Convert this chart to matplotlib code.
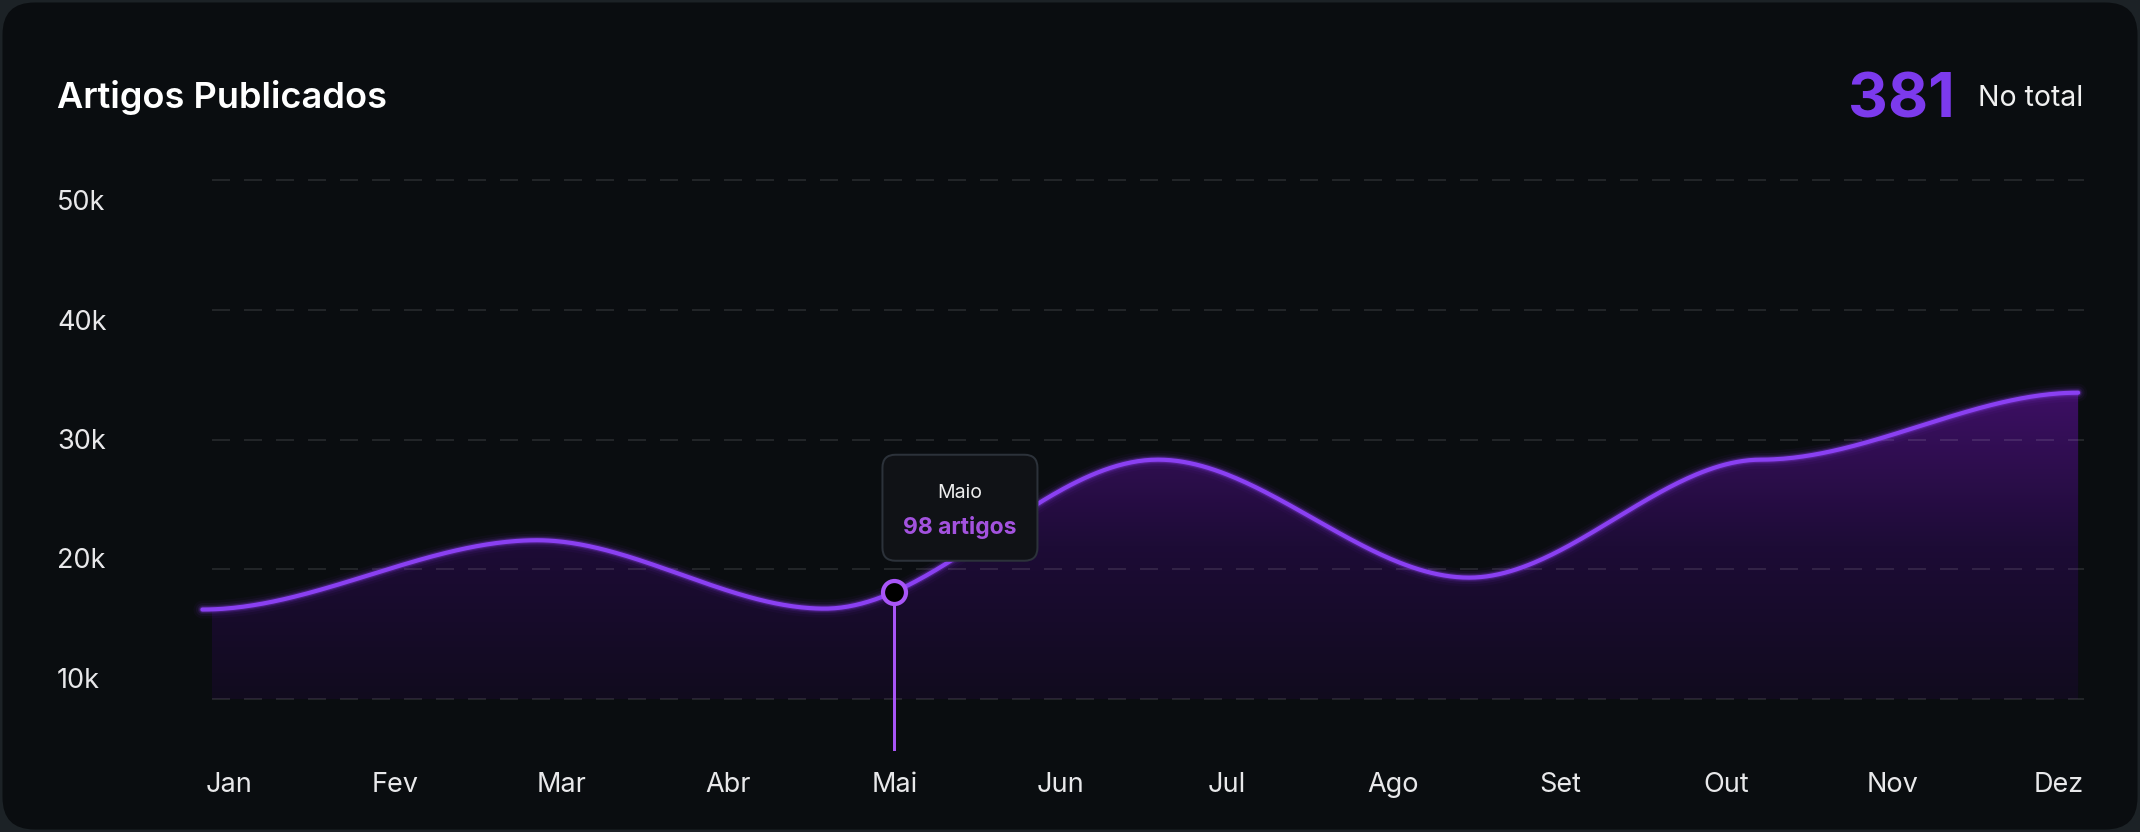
import numpy as np
import matplotlib
matplotlib.use("Agg")
import matplotlib.pyplot as plt
from matplotlib.patches import FancyBboxPatch, PathPatch
from matplotlib.transforms import IdentityTransform
from matplotlib.colors import LinearSegmentedColormap

plt.rcParams['font.family'] = ['Inter', 'DejaVu Sans']

# ---------------- data ----------------
title = "Artigos Publicados"
total_value = "381"
total_label = "No total"
months = ["Jan", "Fev", "Mar", "Abr", "Mai", "Jun", "Jul", "Ago", "Set", "Out", "Nov", "Dez"]
y_ticks = [10, 20, 30, 40, 50]
y_tick_labels = ["10k", "20k", "30k", "40k", "50k"]
# curve control points (x in month units, y in thousands)
curve_x = [-0.16, 1.851, 3.58, 5.584, 7.454, 9.209, 11.115]
curve_y = [16.9, 22.24, 16.97, 28.45, 19.36, 28.45, 33.61]
tooltip_month_idx = 4
tooltip_title = "Maio"
tooltip_value = "98 artigos"

# ---------------- figure ----------------
W, H = 2140, 832
DPI = 100
fig = plt.figure(figsize=(W / DPI, H / DPI), dpi=DPI)
fig.patch.set_facecolor('#1c2226')

card = FancyBboxPatch((2.5, 2.5), W - 5, H - 5,
                      boxstyle="round,pad=0,rounding_size=32",
                      transform=IdentityTransform(), facecolor='#0a0d10',
                      edgecolor='none', zorder=-5)
fig.patches.append(card)


def px(x, y_top):
    """pixel from top-left -> figure fraction"""
    return x / W, 1 - y_top / H


# main axes: gridline extent
ax_left, ax_right = 212, 2084
ax_top, ax_bottom = 167, 751
ax = fig.add_axes([ax_left / W, 1 - ax_bottom / H, (ax_right - ax_left) / W, (ax_bottom - ax_top) / H])
ax.set_facecolor('none')
for s in ax.spines.values():
    s.set_visible(False)

px_per_month = 166.36
XLIM = (0 - (229 - ax_left) / px_per_month, 11 + (ax_right - 2059) / px_per_month)
YLIM = (6.0, 51.0)


def smooth(xs, ys, n=100):
    """cubic segments with flat tangents at every point"""
    bx, by = [xs[0]], [ys[0]]
    s = np.linspace(0, 1, n)[1:]
    h = 3 * s ** 2 - 2 * s ** 3
    for i in range(len(xs) - 1):
        x0, y0, x1, y1 = xs[i], ys[i], xs[i + 1], ys[i + 1]
        bx.extend(x0 + (x1 - x0) * s)
        by.extend(y0 + (y1 - y0) * h)
    return np.array(bx), np.array(by)


sx, sy = smooth(curve_x, curve_y)
base = y_ticks[0]

# gradient fill
poly = ax.fill_between(sx, sy, base, color='none', lw=0, clip_on=False)
grad_cmap = LinearSegmentedColormap.from_list('g', ['#110b1e', '#1d0c36', '#3d0f64'])
grad = np.linspace(0, 1, 256).reshape(-1, 1)
im = ax.imshow(grad, extent=[sx.min(), sx.max(), base, sy.max()], aspect='auto',
               origin='lower', cmap=grad_cmap, zorder=1, interpolation='bilinear')
clip = PathPatch(poly.get_paths()[0], transform=ax.transData, facecolor='none', edgecolor='none')
ax.add_patch(clip)
im.set_clip_path(clip)
im.set_clip_box(None)
ax.set_xlim(*XLIM)
ax.set_ylim(*YLIM)

# grid
p2pt = 72 / DPI
ax.set_yticks(y_ticks)
ax.set_xticks(range(len(months)))
glw = 2 * p2pt
ax.yaxis.grid(True, color='#ffffff', alpha=0.1, linewidth=glw,
              linestyle=(0, (18 * p2pt / glw, 14 * p2pt / glw)), zorder=3)
ax.xaxis.grid(False)
ax.set_axisbelow(False)
ax.tick_params(axis='y', length=0, labelleft=False)
ax.tick_params(axis='x', length=0, pad=15, labelsize=19.5, labelcolor='#e8e8ea')
ax.set_xticklabels(months)

# glow + line
for lw, a in [(18, 0.04), (13, 0.07), (9, 0.12), (6.5, 0.25)]:
    ax.plot(sx, sy, color='#8b3cf0', lw=lw * p2pt, alpha=a, solid_capstyle='round',
            clip_on=False, zorder=4)
ax.plot(sx, sy, color='#8a40f2', lw=4.2 * p2pt, solid_capstyle='round', clip_on=False, zorder=5)

# tooltip marker
mx = tooltip_month_idx
my = float(np.interp(mx, sx, sy))
ax.vlines(mx, YLIM[0], my, color='#a855f7', lw=3 * p2pt, zorder=6)
ax.plot([mx], [my], marker='o', markersize=23 * p2pt, markerfacecolor='black',
        markeredgecolor='#a855f7', markeredgewidth=4.2 * p2pt, zorder=7, clip_on=False)

# tooltip box (pixel coordinates relative to marker)
fig.canvas.draw()
dx_, dy_ = ax.transData.transform((mx, my))
bx0, by0, bw, bh = dx_ - 12, dy_ + 31, 155, 106
box = FancyBboxPatch((bx0, by0), bw, bh, boxstyle="round,pad=0,rounding_size=13",
                     transform=IdentityTransform(), facecolor='#101216',
                     edgecolor='#2c323a', linewidth=2 * p2pt, zorder=8)
fig.patches.append(box)
fig.text((bx0 + bw / 2) / W, (dy_ + 99) / H, tooltip_title, ha='center', va='center',
         fontsize=14, color='#eeeeee', zorder=9)
fig.text((bx0 + bw / 2) / W, (dy_ + 64) / H, tooltip_value, ha='center', va='center',
         fontsize=16.5, fontweight='bold', color='#a352de', zorder=9)

# y labels on their own scale
lab_top, lab_bot = 200, 678
lax = fig.add_axes([57 / W, 1 - lab_bot / H, 0.01, (lab_bot - lab_top) / H])
lax.set_facecolor('none')
for s in lax.spines.values():
    s.set_visible(False)
lax.set_ylim(y_ticks[0], y_ticks[-1])
lax.set_yticks(y_ticks)
lax.set_yticklabels(y_tick_labels)
lax.set_xticks([])
lax.tick_params(axis='y', length=0, pad=0, labelsize=19.5, labelcolor='#e8e8ea')
for t in lax.get_yticklabels():
    t.set_horizontalalignment('left')

# header
fig.text(*px(57, 108), title, ha='left', va='baseline', fontsize=26,
         fontweight='semibold', color='#ffffff')
fig.text(*px(1955, 117), total_value, ha='right', va='baseline', fontsize=44.5,
         fontweight='bold', color='#7c3aed')
fig.text(*px(2083, 106), total_label, ha='right', va='baseline', fontsize=20.5,
         color='#f0f0f0')

fig.savefig('out.png', dpi=DPI, facecolor=fig.get_facecolor())
